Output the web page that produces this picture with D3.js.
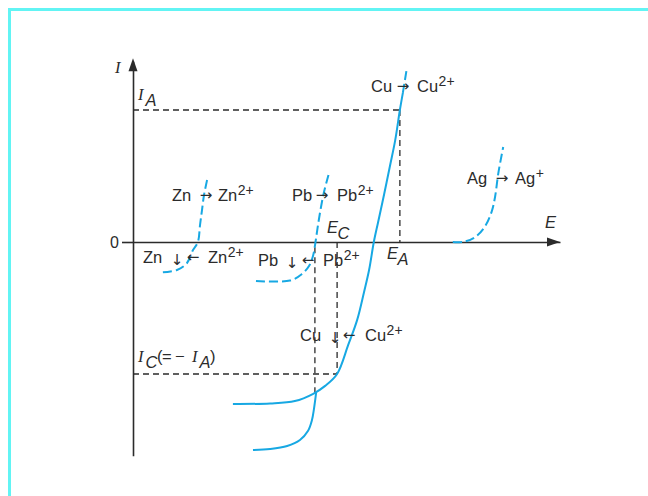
<!DOCTYPE html>
<html>
<head>
<meta charset="utf-8">
<script src="https://cdn.jsdelivr.net/npm/d3@7"></script>
<style>
  html, body { margin: 0; padding: 0; background: #fff; }
  svg { display: block; }
</style>
</head>
<body>
<svg id="chart" width="648" height="496"></svg>
<script>
// Current–potential curves (E in arbitrary units, I scaled so that I_A = 10)
const E_A = 62.5, E_C = 47.8, E_PB = 42.6;
const I_A = 10, I_C = -10, I_PB = -11.45;

// Cu ⇌ Cu2+ : solid curve and its dashed continuation above the plot
const cuDashedTop = [[63.2, 11.3], [64.05, 13.0]];
const cuCurve = [
  [63.2, 11.3], [62.5, 10.0], [61.4, 7.7], [60.2, 5.8], [58.8, 3.6], [57.4, 1.5],
  [56.4, 0], [55.3, -2.1], [54.1, -3.8], [52.5, -5.9], [50.4, -7.8], [47.8, -10.0],
  [45.0, -10.9], [42.2, -11.5], [37.9, -12.05], [32.1, -12.23], [23.4, -12.27]
];
// second cathodic branch
const cuLower = [
  [42.9, -11.4], [42.4, -12.6], [41.9, -13.5], [41.0, -14.3], [39.1, -15.0],
  [36.1, -15.45], [32.1, -15.68], [28.1, -15.76]
];
// Zn ⇌ Zn2+
const znCurve = [
  [7.0, -2.3], [10.3, -2.12], [12.65, -1.59], [14.05, -0.61], [15.2, 0],
  [15.7, 1.29], [16.16, 2.42], [16.63, 3.56], [17.1, 4.32], [17.56, 5.0]
];
// Pb ⇌ Pb2+
const pbCurve = [
  [28.8, -2.95], [36.77, -2.92], [39.58, -2.42], [41.22, -1.82], [42.15, -1.06],
  [42.74, 0], [43.33, 1.29], [44.03, 2.65], [44.73, 3.79], [45.78, 5.08]
];
// Ag → Ag+
const agCurve = [
  [74.9, 0], [77.5, 0.02], [80.1, 0.36], [82.4, 1.16], [84.0, 2.3],
  [84.8, 3.43], [85.55, 5.2], [86.7, 7.2]
];
// reading lines for I_A / E_A and I_C / E_C
const guides = [
  [[0, I_A], [E_A, I_A]],
  [[E_A, I_A], [E_A, 0]],
  [[0, I_C], [E_C, I_C]],
  [[E_C, 0], [E_C, I_C]],
  [[E_PB, -0.4], [E_PB, I_PB]]
];

const svg = d3.select("#chart");
const blue = "#17a8e3";
const ink = "#2b2b2b";
const sans = "'Liberation Sans', Arial, Helvetica, sans-serif";
const serif = "'Liberation Serif', 'Times New Roman', serif";
const symb = "DejaVu Sans";

// frame (top and left edges)
svg.append("path")
  .attr("d", "M9.5,496 V9.5 H648")
  .attr("fill", "none").attr("stroke", "#62f4f4").attr("stroke-width", 3);

const x = d3.scaleLinear().domain([0, 100]).range([133, 560]);
const y = d3.scaleLinear().domain([-16.2, 13.7]).range([242 + 16.2 * 13.2, 242 - 13.7 * 13.2]);

// axes
const yAxis = d3.axisLeft(y).tickValues([0]).tickFormat(() => "0")
  .tickSize(11).tickSizeOuter(0).tickPadding(3);
const gy = svg.append("g").attr("transform", `translate(${x(0)},0)`).call(yAxis);
gy.select(".domain").attr("stroke", ink).attr("stroke-width", 1.6);
gy.selectAll(".tick line").attr("stroke", ink).attr("stroke-width", 1.6);
gy.selectAll(".tick text").attr("font-family", sans).attr("font-size", 16)
  .attr("fill", ink).attr("dy", "0.36em");

const xAxis = d3.axisBottom(x).tickValues([]).tickSizeOuter(0);
const gx = svg.append("g").attr("transform", `translate(0,${y(0)})`).call(xAxis);
gx.select(".domain").attr("stroke", ink).attr("stroke-width", 1.6);

// arrowheads
const ty = y.range()[1];
svg.append("path")
  .attr("d", `M${x(0)},${ty - 3} L${x(0) - 4.5},${ty + 10} L${x(0) + 4.5},${ty + 10} Z`)
  .attr("fill", ink);
const tx = x(100);
svg.append("path")
  .attr("d", `M${tx},${y(0)} L${tx - 13},${y(0) - 4.5} L${tx - 13},${y(0) + 4.5} Z`)
  .attr("fill", ink);

// dashed reading lines
svg.append("g").selectAll("path").data(guides).join("path")
  .attr("d", d => `M${x(d[0][0])},${y(d[0][1])} L${x(d[1][0])},${y(d[1][1])}`)
  .attr("fill", "none").attr("stroke", ink).attr("stroke-width", 1.3)
  .attr("stroke-dasharray", "6,4");

// curves
const line = d3.line().x(d => x(d[0])).y(d => y(d[1])).curve(d3.curveCatmullRom.alpha(0.5));
const curves = [
  { pts: cuCurve, dashed: false },
  { pts: cuLower, dashed: false },
  { pts: cuDashedTop, dashed: true },
  { pts: znCurve, dashed: true },
  { pts: pbCurve, dashed: true },
  { pts: agCurve, dashed: true }
];
svg.append("g").selectAll("path").data(curves).join("path")
  .attr("d", d => line(d.pts))
  .attr("fill", "none").attr("stroke", blue).attr("stroke-width", 2)
  .attr("stroke-dasharray", d => d.dashed ? "9,4" : null);

// text helpers
function txt(xp, yp, s, opt = {}) {
  return svg.append("text").attr("x", xp).attr("y", yp)
    .attr("font-family", opt.family || sans).attr("font-size", opt.size || 16.5)
    .attr("font-style", opt.italic ? "italic" : "normal")
    .attr("text-anchor", opt.anchor || "start")
    .attr("fill", ink).text(s);
}
function chem(xp, yp, base, charge) {
  const t = svg.append("text").attr("x", xp).attr("y", yp)
    .attr("font-family", sans).attr("font-size", 16.5).attr("fill", ink);
  t.append("tspan").text(base);
  t.append("tspan").attr("dx", 0.5).attr("dy", -6.5).attr("font-size", 14).text(charge);
}
function arrow(cx, yp, s) {
  txt(cx, yp, s + "\uFE0E", { size: 15, anchor: "middle", family: symb });
}
function symbol(xp, yp, letter, sub, family) {
  txt(xp, yp, letter, { italic: true, family: family });
  const w = family === serif ? 7.5 : 10.5;
  txt(xp + w, yp + 6, sub, { italic: true });
}

// anodic reactions
txt(371, 92, "Cu"); arrow(403, 91, "\u2192"); chem(417, 92, "Cu", "2+");
txt(172, 201, "Zn"); arrow(206, 200, "\u2192"); chem(218, 201, "Zn", "2+");
txt(292, 201, "Pb"); arrow(322, 200, "\u2192"); chem(337, 201, "Pb", "2+");
txt(467, 184, "Ag"); arrow(502, 183, "\u2192"); chem(515, 184, "Ag", "+");

// cathodic reactions
txt(143, 263, "Zn"); arrow(177, 265, "\u2193"); arrow(193, 262, "\u2190"); chem(208, 263, "Zn", "2+");
txt(258, 266, "Pb"); arrow(292, 268, "\u2193"); arrow(308, 265, "\u2190"); chem(323, 266, "Pb", "2+");
txt(300, 341, "Cu"); arrow(335, 343, "\u2193"); arrow(349, 340, "\u2190"); chem(365, 341, "Cu", "2+");

// axis and point symbols
txt(115, 73, "I", { italic: true, family: serif });
txt(545, 228, "E", { italic: true });
symbol(138, 100, "I", "A", serif);
symbol(327, 233, "E", "C", sans);
symbol(387, 259, "E", "A", sans);
symbol(138, 362, "I", "C", serif);
txt(157, 362, "(");
txt(162, 362, "=");
txt(175, 362, "\u2212");
symbol(192, 362, "I", "A", serif);
txt(210, 362, ")");
</script>
</body>
</html>
